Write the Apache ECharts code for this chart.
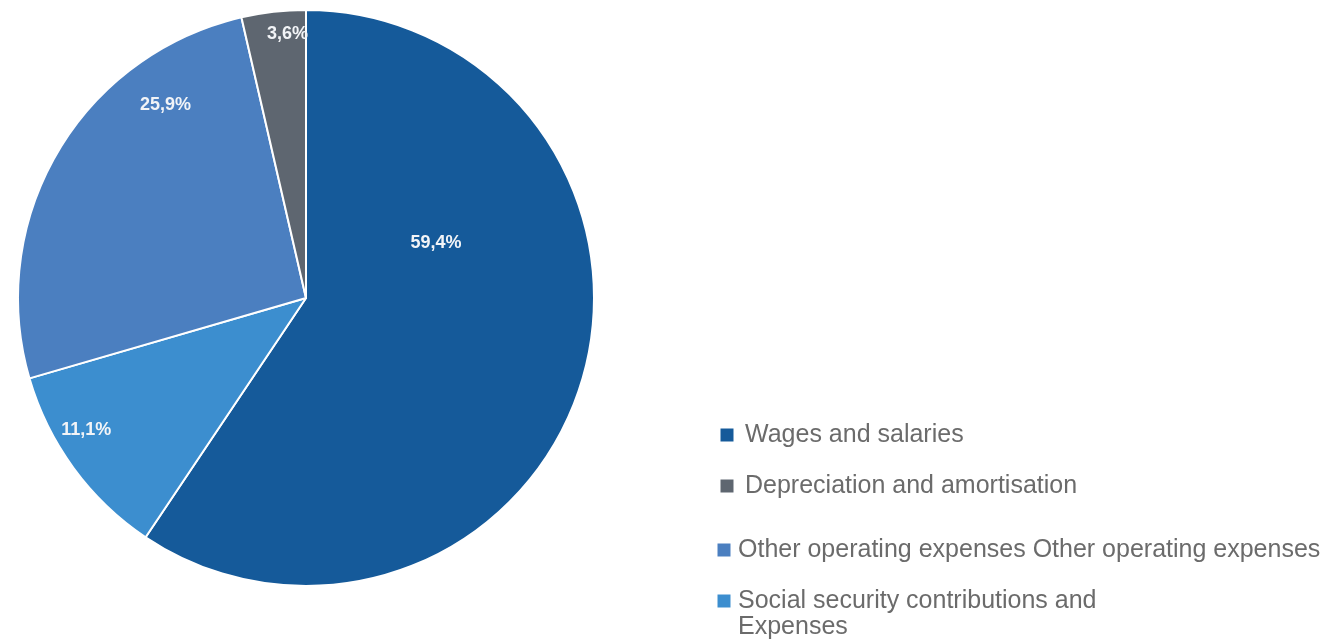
<!DOCTYPE html>
<html>
<head>
<meta charset="utf-8">
<script src="https://cdn.jsdelivr.net/npm/echarts@6/dist/echarts.min.js"></script>
<style>
  html, body { margin: 0; padding: 0; background: #ffffff; }
  #chart { width: 1337px; height: 643px; }
</style>
</head>
<body>
<div id="chart"></div>
<script>
// Cost structure, share of total expenses (%)
const categories = [
  'Wages and salaries',
  'Social security contributions and\nExpenses',
  'Other operating expenses Other operating expenses',
  'Depreciation and amortisation'
];
const shares = [59.4, 11.1, 25.9, 3.6];
const colors = ['#155a9a', '#3c8ecf', '#4b7fc0', '#5e6670'];

// Legend order as listed beside the pie
const legendOrder = [0, 3, 2, 1];

// Label placement inside each slice: angle (deg, clockwise from 12 o'clock)
// and distance as a fraction of the radius
const labelPlacement = [
  { angle: 67, dist: 0.49 },
  { angle: 239, dist: 0.89 },
  { angle: 324, dist: 0.83 },
  { angle: 356, dist: 0.92 }
];

const CX = 306, CY = 298, R = 288;

const chart = echarts.init(document.getElementById('chart'), null, { renderer: 'canvas' });

const legendTops = [422, 473, 537, 562];
const legendLefts = [718.5, 718.5, 715.5, 715.5];
const legendTextPad = [5.5, 5.5, 1.5, 1.5];

const legends = legendOrder.map((idx, k) => ({
  data: [categories[idx]],
  orient: 'vertical',
  left: legendLefts[k],
  top: legendTops[k],
  icon: 'rect',
  itemWidth: 15,
  itemHeight: 15,
  itemGap: 0,
  padding: 0,
  selectedMode: false,
  // the wrapped entry keeps its marker beside the first line of text
  formatter: name => (name.indexOf('\n') >= 0 ? ' \n' + name : name),
  textStyle: {
    fontFamily: '"Liberation Sans", Arial, sans-serif',
    fontSize: 25,
    color: '#6b6b6b',
    lineHeight: 26,
    padding: [0, 0, 0, legendTextPad[k]]
  }
}));

chart.setOption({
  animation: false,
  color: colors,
  legend: legends,
  series: [{
    type: 'pie',
    center: [CX, CY],
    radius: [0, R],
    startAngle: 90,
    clockwise: true,
    avoidLabelOverlap: false,
    data: categories.map((name, i) => ({ name, value: shares[i] })),
    itemStyle: { borderColor: '#ffffff', borderWidth: 2 },
    label: {
      show: true,
      position: 'inside',
      formatter: p => p.value.toFixed(1).replace('.', ',') + '%',
      color: '#f2f4f7',
      fontFamily: '"Liberation Sans", Arial, sans-serif',
      fontWeight: 'bold',
      fontSize: 18
    },
    labelLine: { show: false },
    labelLayout: params => {
      const pl = labelPlacement[params.dataIndex];
      const a = pl.angle * Math.PI / 180;
      return {
        x: CX + Math.sin(a) * pl.dist * R,
        y: CY - Math.cos(a) * pl.dist * R,
        align: 'center',
        verticalAlign: 'middle'
      };
    }
  }]
});
</script>
</body>
</html>
